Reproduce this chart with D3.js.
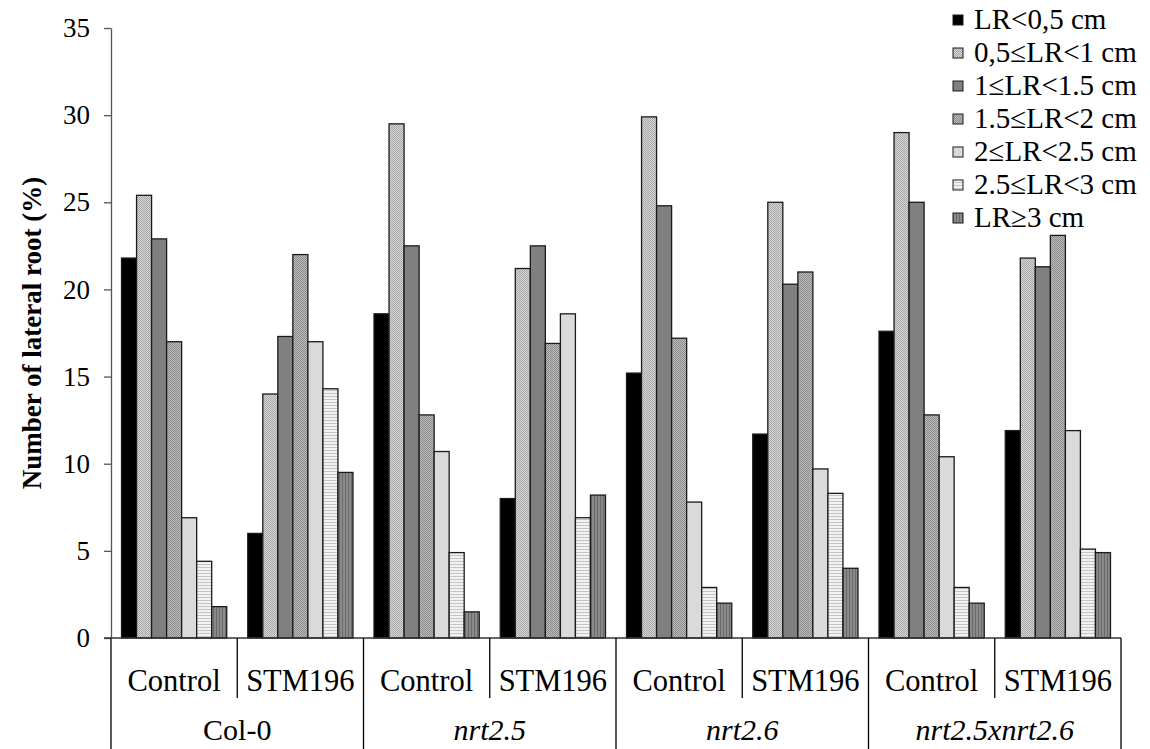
<!DOCTYPE html>
<html>
<head>
<meta charset="utf-8">
<script src="https://cdn.jsdelivr.net/npm/d3@7"></script>
<style>
  body { margin: 0; background: #fff; }
  svg { display: block; font-family: "Liberation Serif", "Times New Roman", serif; }
</style>
</head>
<body>
<div id="chart"></div>
<script>
// data
const groups = ["Col-0", "nrt2.5", "nrt2.6", "nrt2.5xnrt2.6"];
const treatments = ["Control", "STM196"];
const seriesNames = ["LR<0,5 cm", "0,5≤LR<1 cm", "1≤LR<1.5 cm", "1.5≤LR<2 cm",
                     "2≤LR<2.5 cm", "2.5≤LR<3 cm", "LR≥3 cm"];
// one value per group x treatment, in order Col-0 Control, Col-0 STM196, nrt2.5 Control ...
const lr05  = [21.8, 6.0, 18.6, 8.0, 15.2, 11.7, 17.6, 11.9];
const lr1   = [25.4, 14.0, 29.5, 21.2, 29.9, 25.0, 29.0, 21.8];
const lr15  = [22.9, 17.3, 22.5, 22.5, 24.8, 20.3, 25.0, 21.3];
const lr2   = [17.0, 22.0, 12.8, 16.9, 17.2, 21.0, 12.8, 23.1];
const lr25  = [6.9, 17.0, 10.7, 18.6, 7.8, 9.7, 10.4, 11.9];
const lr3   = [4.4, 14.3, 4.9, 6.9, 2.9, 8.3, 2.9, 5.1];
const lrGt3 = [1.8, 9.5, 1.5, 8.2, 2.0, 4.0, 2.0, 4.9];
const yTicks = [0, 5, 10, 15, 20, 25, 30, 35];

const seriesValues = [lr05, lr1, lr15, lr2, lr25, lr3, lrGt3];

const width = 1150, height = 749;
const margin = {left: 111, right: 29, top: 28, bottom: 111};
const serif = "Liberation Serif, Times New Roman, serif";

const svg = d3.select("#chart").append("svg")
    .attr("width", width)
    .attr("height", height);

// fill patterns
const defs = svg.append("defs");
function pattern(id, w, h, bg, draw) {
  const p = defs.append("pattern").attr("id", id)
      .attr("patternUnits", "userSpaceOnUse").attr("width", w).attr("height", h);
  p.append("rect").attr("width", w).attr("height", h).attr("fill", bg);
  draw(p);
}
pattern("dots", 2, 2, "#d6d6d6", p => {
  p.append("rect").attr("width", 1).attr("height", 1).attr("fill", "#a8a8a8");
  p.append("rect").attr("x", 1).attr("y", 1).attr("width", 1).attr("height", 1).attr("fill", "#a8a8a8");
});
pattern("hatch", 2, 2, "#bdbdbd", p => {
  p.append("rect").attr("width", 1).attr("height", 1).attr("fill", "#8a8a8a");
  p.append("rect").attr("x", 1).attr("y", 1).attr("width", 1).attr("height", 1).attr("fill", "#8a8a8a");
});
pattern("hlines", 4, 3, "#f2f2f2", p => {
  p.append("rect").attr("width", 4).attr("height", 1).attr("fill", "#c4c4c4");
});
pattern("vlines", 3, 4, "#8a8a8a", p => {
  p.append("rect").attr("width", 1).attr("height", 4).attr("fill", "#6a6a6a");
});
const fills = ["#000000", "url(#dots)", "#808080", "url(#hatch)", "#dadada", "url(#hlines)", "url(#vlines)"];

const subKeys = [];
groups.forEach(g => treatments.forEach(t => subKeys.push(g + "|" + t)));

const x0 = d3.scaleBand()
    .domain(groups)
    .range([margin.left, width - margin.right]);
const x1 = d3.scaleBand()
    .domain(subKeys)
    .range([margin.left, width - margin.right]);
const xBar = d3.scaleBand()
    .domain(d3.range(seriesNames.length))
    .range([0, x1.bandwidth()])
    .paddingOuter(0.7);

const y = d3.scaleLinear()
    .domain([0, 35])
    .range([height - margin.bottom, margin.top]);

// bars
const rows = [];
subKeys.forEach((k, i) => {
  seriesValues.forEach((vals, s) => rows.push({key: k, s: s, v: vals[i]}));
});
svg.append("g").selectAll("rect")
  .data(rows)
  .join("rect")
    .attr("x", d => x1(d.key) + xBar(d.s))
    .attr("y", d => y(d.v))
    .attr("width", xBar.bandwidth())
    .attr("height", d => y(0) - y(d.v))
    .attr("fill", d => fills[d.s])
    .attr("stroke", "#1a1a1a")
    .attr("stroke-width", 1.3);

// y axis
const yAxis = svg.append("g")
    .attr("transform", "translate(" + margin.left + ",0)")
    .call(d3.axisLeft(y).tickValues(yTicks).tickSize(7).tickPadding(14).tickSizeOuter(0));
yAxis.select(".domain").attr("stroke", "#555").attr("stroke-width", 1.3);
yAxis.selectAll(".tick line").attr("stroke", "#555").attr("stroke-width", 1.3);
yAxis.selectAll(".tick text")
    .attr("font-family", serif)
    .attr("font-size", 27)
    .attr("fill", "#000");

// y axis extends down through the category rows
svg.append("line")
    .attr("x1", margin.left).attr("x2", margin.left)
    .attr("y1", y(0)).attr("y2", height)
    .attr("stroke", "#000").attr("stroke-width", 1.3);

// x axis baseline
svg.append("line")
    .attr("x1", margin.left - 7).attr("x2", width - margin.right)
    .attr("y1", y(0)).attr("y2", y(0))
    .attr("stroke", "#333").attr("stroke-width", 1.5);

// group separators (full height), treatment separators (short)
const sepGroup = groups.map(g => x0(g) + x0.bandwidth());
svg.append("g").selectAll("line")
  .data(sepGroup)
  .join("line")
    .attr("x1", d => d).attr("x2", d => d)
    .attr("y1", y(0)).attr("y2", height)
    .attr("stroke", "#000").attr("stroke-width", 1.3);
svg.append("g").selectAll("line")
  .data(groups)
  .join("line")
    .attr("x1", g => x1(g + "|STM196")).attr("x2", g => x1(g + "|STM196"))
    .attr("y1", y(0)).attr("y2", y(0) + 60)
    .attr("stroke", "#000").attr("stroke-width", 1.3);

// treatment labels
svg.append("g").selectAll("text")
  .data(subKeys)
  .join("text")
    .attr("x", k => x1(k) + x1.bandwidth() / 2)
    .attr("y", y(0) + 53)
    .attr("text-anchor", "middle")
    .attr("font-family", serif)
    .attr("font-size", 30.5)
    .text(k => k.split("|")[1]);

// group labels
svg.append("g").selectAll("text")
  .data(groups)
  .join("text")
    .attr("x", g => x0(g) + x0.bandwidth() / 2)
    .attr("y", y(0) + 102)
    .attr("text-anchor", "middle")
    .attr("font-family", serif)
    .attr("font-size", 30)
    .attr("font-style", (g, i) => i === 0 ? "normal" : "italic")
    .text(g => g);

// y title
svg.append("text")
    .attr("transform", "translate(41," + ((y(0) + y(35)) / 2) + ") rotate(-90)")
    .attr("text-anchor", "middle")
    .attr("font-family", serif)
    .attr("font-size", 27)
    .attr("font-weight", "bold")
    .text("Number of lateral root (%)");

// legend
const legend = svg.append("g").attr("transform", "translate(953,0)");
const li = legend.selectAll("g")
  .data(seriesNames)
  .join("g")
    .attr("transform", (d, i) => "translate(0," + (29 + i * 33) + ")");
li.append("rect")
    .attr("x", 0).attr("y", -14)
    .attr("width", 10).attr("height", 10)
    .attr("fill", (d, i) => fills[i])
    .attr("stroke", "#1a1a1a")
    .attr("stroke-width", 1);
li.append("text")
    .attr("x", 21)
    .attr("y", 0)
    .attr("font-family", serif)
    .attr("font-size", 29)
    .text(d => d);
</script>
</body>
</html>
